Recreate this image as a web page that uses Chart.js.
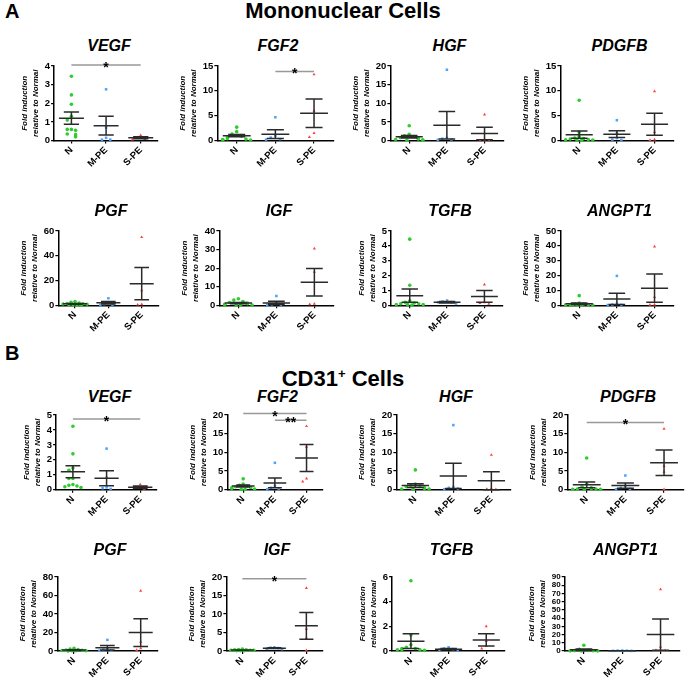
<!DOCTYPE html>
<html>
<head>
<meta charset="utf-8">
<script src="https://cdn.jsdelivr.net/npm/chart.js@4.4.0/dist/chart.umd.min.js"></script>
<style>
body { margin:0; background:#fff; width:685px; height:685px; position:relative; overflow:hidden; font-family:"Liberation Sans", Arial, sans-serif; }
.t { position:absolute; font-weight:bold; color:#000; white-space:nowrap; }
.gt { position:absolute; font-weight:bold; font-style:italic; font-size:16px; color:#000; transform:translate(-50%,-50%); white-space:nowrap; }
.panel { position:absolute; }
</style>
</head>
<body>
<div class="t" style="left:5px;top:0px;font-size:20px">A</div>
<div class="t" style="left:343px;top:11px;font-size:22px;transform:translate(-50%,-50%)">Mononuclear Cells</div>
<div class="t" style="left:5px;top:342px;font-size:20px">B</div>
<div class="t" style="left:343px;top:379px;font-size:22px;transform:translate(-50%,-50%)">CD31<sup style="font-size:13px">+</sup> Cells</div>

<script>
const groups = ['N', 'M-PE', 'S-PE'];
const genesA = ['VEGF', 'FGF2', 'HGF', 'PDGFB', 'PGF', 'IGF', 'TGFB', 'ANGPT1'];
const genesB = ['VEGF', 'FGF2', 'HGF', 'PDGFB', 'PGF', 'IGF', 'TGFB', 'ANGPT1'];

// y axis ranges
const maxA = [4, 15, 20, 15, 60, 40, 5, 50];
const stepA = [1, 5, 5, 5, 20, 10, 1, 10];
const maxB = [5, 20, 20, 20, 80, 20, 6, 90];
const stepB = [1, 5, 5, 5, 20, 5, 2, 10];

// Mononuclear cells - individual values
const normA = [
  [3.45, 2.45, 1.95, 1.3, 1.1, 0.6, 0.55, 0.6, 0.35, 0.32, 0.2],
  [2.7, 1.8, 1.3, 1.0, 0.9, 0.6, 0.4, 0.3, 0.2, 0.1, 0.1],
  [4.0, 1.7, 1.3, 1.1, 0.8, 0.6, 0.4, 0.3, 0.2, 0.1, 0.1],
  [8.1, 1.7, 0.8, 0.5, 0.4, 0.3, 0.2, 0.1, 0.1, 0.05, 0.15],
  [3, 2.5, 1.8, 1.5, 1.2, 1, 0.8, 0.5, 0.3, 0.2, 0.1],
  [3.5, 2.8, 2, 1.5, 1.2, 0.8, 0.5, 0.3, 0.2, 0.1, 0.1],
  [4.45, 1.35, 0.3, 0.2, 0.15, 0.1, 0.05, 0.05, 0.1, 0.05, 0.02],
  [6.5, 1.5, 1, 0.8, 0.5, 0.3, 0.2, 0.1, 0.1, 0.2, 0.3]
];
const mildA = [
  [2.75, 0.7, 0.15, 0.05, 0.05],
  [4.7, 1.0, 0.6, 0.3, 0.2],
  [19, 0.7, 0.5, 0.3, 0.2],
  [4.1, 1.5, 0.5, 0.2, 0.1],
  [5.7, 2, 1, 0.5, 0.3],
  [5, 0.8, 0.5, 0.3, 0.2],
  [0.32, 0.25, 0.2, 0.12, 0.22],
  [19.8, 1, 0.5, 0.3, 0.2]
];
const sevA = [
  [0.28, 0.15, 0.08, 0.05],
  [13.3, 6.0, 1.5, 0.7],
  [7.0, 0.3, 0.1, 0.05],
  [9.9, 1.7, 0.2, 0.1],
  [55, 12, 0.5, 0.8],
  [30.5, 18, 0.5, 0.8],
  [1.4, 0.2, 0.1, 0.15],
  [39.5, 5.5, 0.3, 0.5]
];
const meanA = [[1.2, 0.8, 0.15], [1.0, 1.3, 5.5], [1.05, 4.1, 1.9], [1.2, 1.3, 3.3],
  [1.2, 2.0, 17.5], [1.2, 1.3, 12.4], [0.65, 0.2, 0.6], [1.0, 4.3, 11.5]];
const semA = [[0.33, 0.5, 0.05], [0.25, 0.9, 2.85], [0.35, 3.7, 1.7], [0.75, 0.7, 2.2],
  [0.3, 1.0, 13], [0.35, 0.9, 7.4], [0.45, 0.05, 0.4], [0.5, 3.8, 9.5]];
const sigA = [[[0, 2, 4.05, '*']], [[1, 2, 13.9, '*']], [], [], [], [], [], []];

// CD31+ cells - individual values
const normB = [
  [4.25, 2.4, 1.45, 1.3, 0.75, 0.75, 0.35, 0.25, 0.2, 0.3, 0.15],
  [2.9, 1.5, 1.2, 1.0, 0.8, 0.5, 0.3, 0.2, 0.1, 0.1, 0.6],
  [5.3, 1.5, 1.2, 1.0, 0.8, 0.5, 0.3, 0.2, 0.1, 0.2],
  [8.5, 1.5, 0.8, 0.5, 0.3, 0.2, 0.1, 0.1, 0.05, 0.2],
  [3, 2, 1.5, 1, 0.8, 0.5, 0.3, 0.2, 0.1, 0.2],
  [0.5, 0.4, 0.3, 0.2, 0.2, 0.1, 0.1, 0.05, 0.3, 0.2],
  [5.7, 1.3, 0.5, 0.3, 0.2, 0.1, 0.1, 0.05, 0.2, 0.1],
  [7, 2, 1, 0.8, 0.5, 0.3, 0.2, 0.1, 0.1]
];
const mildB = [
  [2.75, 0.8, 0.15, 0.1, 0.05],
  [7.2, 1.0, 0.5, 0.3, 0.1],
  [17.3, 0.7, 0.5, 0.3, 0.1],
  [3.8, 1.0, 0.5, 0.2, 0.1],
  [12, 3, 1.5, 0.5, 0.3],
  [1.0, 0.9, 0.8, 0.6, 0.5],
  [0.3, 0.2, 0.15, 0.1, 0.05],
  [0.5, 0.4, 0.3, 0.2, 0.1]
];
const sevB = [
  [0.35, 0.15, 0.1, 0.05],
  [17, 11.5, 3, 2.2],
  [9.3, 0.3, 0.1, 0.2],
  [16.3, 6.3, 4.8, 0.1],
  [65, 10, 3, 1],
  [17, 6, 3.5, 0.2],
  [2, 0.8, 0.4, 0.2],
  [75, 5, 1, 0.5]
];
const meanB = [[1.2, 0.77, 0.17], [1.0, 1.8, 8.5], [1.1, 3.7, 2.4], [1.3, 1.1, 7.2],
  [1.0, 3.5, 20], [0.25, 0.75, 6.8], [0.8, 0.15, 0.9], [1.5, 0.3, 20]];
const semB = [[0.4, 0.5, 0.07], [0.25, 1.3, 3.6], [0.5, 3.4, 2.4], [0.75, 0.7, 3.4],
  [0.4, 2.5, 15], [0.05, 0.1, 3.6], [0.6, 0.05, 0.5], [0.8, 0.1, 19]];
const sigB = [[[0, 2, 4.73, '*']], [[0, 2, 20.4, '*'], [1, 2, 18.6, '**']], [], [[0, 2, 18.0, '*']],
  [], [[0, 2, 19.5, '*']], [], []];

const colors = ['#2ecc2e', '#4da3ff', '#ff4040'];
const shapes = ['circle', 'rect', 'triangle'];

// panel placement: [axis x, axis end x] per row, [top px, zero px, title y] per row
const colX = [
  [[54, 158], [217, 333], [390, 503], [560, 673]],
  [[58, 158], [219, 333], [391, 503], [560, 673]],
  [[56, 157], [227, 322], [396, 510], [567, 683]],
  [[57, 157], [226, 322], [392, 505], [565, 680]]
];
const rowY = [[65.7, 140.3, 46], [230.7, 305, 211], [415.3, 490, 397], [577, 651, 550]];

// spread overlapping dots sideways
function swarm(vals, max) {
  const pattern = [0, -0.12, 0.12, -0.24, 0.24, -0.36, 0.36, -0.06, 0.06, -0.18, 0.18];
  const placed = [];
  return vals.slice().sort((a, b) => b - a).map(v => {
    const n = placed.filter(p => Math.abs(p - v) < max * 0.06).length;
    placed.push(v);
    return { v: v, off: pattern[n % pattern.length] };
  });
}

const meanSem = {
  id: 'meanSem',
  afterDatasetsDraw(chart, args, o) {
    const { ctx, scales: { x, y } } = chart;
    ctx.save();
    ctx.strokeStyle = '#2a2a2a';
    ctx.lineWidth = 1.5;
    o.mean.forEach((m, i) => {
      const c = i + 0.5;
      const hi = m + o.sem[i], lo = Math.max(m - o.sem[i], 0);
      ctx.beginPath();
      ctx.moveTo(x.getPixelForValue(c - 0.36), y.getPixelForValue(m));
      ctx.lineTo(x.getPixelForValue(c + 0.36), y.getPixelForValue(m));
      ctx.moveTo(x.getPixelForValue(c - 0.22), y.getPixelForValue(hi));
      ctx.lineTo(x.getPixelForValue(c + 0.22), y.getPixelForValue(hi));
      ctx.moveTo(x.getPixelForValue(c - 0.22), y.getPixelForValue(lo));
      ctx.lineTo(x.getPixelForValue(c + 0.22), y.getPixelForValue(lo));
      ctx.moveTo(x.getPixelForValue(c), y.getPixelForValue(hi));
      ctx.lineTo(x.getPixelForValue(c), y.getPixelForValue(lo));
      ctx.stroke();
    });
    ctx.strokeStyle = '#999';
    ctx.fillStyle = '#000';
    ctx.font = 'bold 14px "Liberation Sans", Arial';
    ctx.textAlign = 'center';
    ctx.textBaseline = 'alphabetic';
    o.sig.forEach(s => {
      const py = y.getPixelForValue(s[2]);
      const x1 = x.getPixelForValue(s[0] + 0.5), x2 = x.getPixelForValue(s[1] + 0.5);
      ctx.beginPath();
      ctx.moveTo(x1, py);
      ctx.lineTo(x2, py);
      ctx.stroke();
      ctx.fillText(s[3], (x1 + x2) / 2, py + 7);
    });
    ctx.restore();
  }
};

const W = 190, H = 170;

function panel(gene, vals, mean, sem, sig, max, step, row, col) {
  const [ax, end] = colX[row][col];
  const [top, zero, ty] = rowY[row];

  const t = document.createElement('div');
  t.className = 'gt';
  t.style.left = ((ax + end) / 2 + 3) + 'px';
  t.style.top = ty + 'px';
  t.textContent = gene;
  document.body.appendChild(t);

  const wrap = document.createElement('div');
  wrap.className = 'panel';
  const cv = document.createElement('canvas');
  cv.width = W; cv.height = H;
  wrap.appendChild(cv);
  document.body.appendChild(wrap);

  const datasets = vals.map((g, i) => ({
    data: swarm(g, max).map(p => ({ x: i + 0.5 + p.off, y: p.v })),
    backgroundColor: colors[i],
    borderColor: colors[i],
    borderWidth: 0,
    pointStyle: shapes[i],
    pointRadius: 1.8,
    clip: false
  }));

  const tickFont = { family: '"Liberation Sans", Arial', size: 9.5, weight: 'bold' };
  const yTickFont = { family: '"Liberation Sans", Arial', size: max / step > 6 ? 8 : 9.5, weight: 'bold' };
  const chart = new Chart(cv, {
    type: 'scatter',
    data: { datasets },
    options: {
      responsive: false,
      animation: false,
      layout: { padding: { top: 30, right: 20, bottom: 0, left: 0 } },
      plugins: { legend: { display: false }, tooltip: { enabled: false },
        meanSem: { mean, sem, sig } },
      scales: {
        x: {
          type: 'linear', min: 0, max: 3,
          afterBuildTicks: s => { s.ticks = [0.5, 1.5, 2.5].map(v => ({ value: v })); },
          ticks: { callback: v => groups[Math.round(v - 0.5)], minRotation: 45, maxRotation: 45,
            color: '#000', font: tickFont, padding: 1 },
          grid: { drawOnChartArea: false, color: '#000', lineWidth: 1.2, tickLength: 3 },
          border: { color: '#000', width: 1.5 }
        },
        y: {
          min: 0, max: max,
          ticks: { stepSize: step, autoSkip: false, color: '#000', font: yTickFont, padding: 1 },
          grid: { drawOnChartArea: false, color: '#000', lineWidth: 1.2, tickLength: 3 },
          border: { color: '#000', width: 1.5 },
          title: { display: true, text: ['Fold induction', 'relative to Normal'], color: '#000',
            font: { family: '"Liberation Sans", Arial', size: 8, weight: 'bold', style: 'italic', lineHeight: 1.3 },
            padding: { top: 0, bottom: 3 } }
        }
      }
    },
    plugins: [meanSem]
  });

  // line the plot area up with the figure
  let ca = chart.chartArea;
  chart.options.layout.padding.right = W - ca.left - (end - ax);
  chart.options.layout.padding.bottom = H - chart.scales.x.height - ca.top - (zero - top);
  chart.update('none');
  ca = chart.chartArea;
  wrap.style.left = (ax - ca.left) + 'px';
  wrap.style.top = (top - ca.top) + 'px';
}

for (let k = 0; k < 8; k++) {
  panel(genesA[k], [normA[k], mildA[k], sevA[k]], meanA[k], semA[k], sigA[k], maxA[k], stepA[k],
    Math.floor(k / 4), k % 4);
  panel(genesB[k], [normB[k], mildB[k], sevB[k]], meanB[k], semB[k], sigB[k], maxB[k], stepB[k],
    2 + Math.floor(k / 4), k % 4);
}
</script>
</body>
</html>
